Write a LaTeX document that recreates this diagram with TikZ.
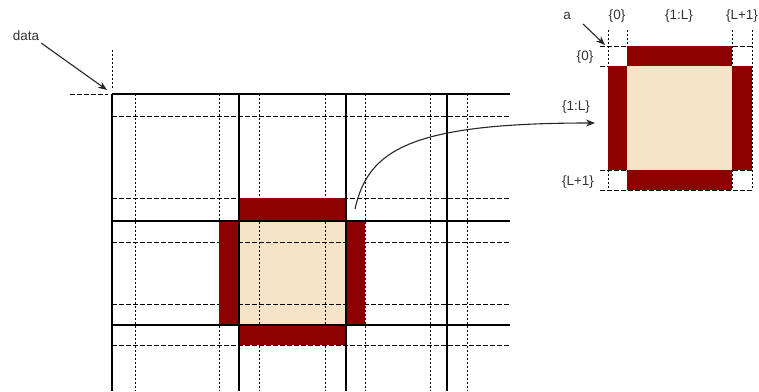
\documentclass[tikz,border=0pt]{standalone}
\usepackage{fontspec}
\setmainfont{Liberation Sans}
\usetikzlibrary{arrows.meta}
\definecolor{haloRed}{RGB}{140,0,0}
\definecolor{coreBeige}{RGB}{246,228,200}
\begin{document}
\begin{tikzpicture}[x=1pt,y=-1pt,
  solidln/.style={line width=1.3pt,black},
  vdash/.style={line width=0.8pt,black,dash pattern=on 2pt off 2pt},
  hdash/.style={line width=0.8pt,black,dash pattern=on 4.5pt off 2.5pt},
  lbl/.style={font=\fontsize{13.5}{15}\selectfont,text=black!80,inner sep=0pt},
  ptr/.style={line width=1.1pt,black!85,-{Stealth[length=9pt,width=7pt]}},
  redfill/.style={fill=haloRed,draw=none},
  beigefill/.style={fill=coreBeige,draw=none}]
\useasboundingbox (0,0) rectangle (759,391);
% ---------- main grid ----------
\fill[beigefill] (239,221) rectangle (346,325);
\foreach \x in {135,219,259,325,365,430,467}
  \draw[vdash] (\x,94) -- (\x,391);
\foreach \y in {116,198,242,304,345}
  \draw[hdash] (112,\y) -- (510,\y);
\fill[redfill] (239,198) rectangle (346,221);
\fill[redfill] (239,325) rectangle (346,345);
\fill[redfill] (219,221) rectangle (239,325);
\fill[redfill] (346,221) rectangle (365,325);
\foreach \x in {112,239,346,447}
  \draw[solidln] (\x,94) -- (\x,391);
\foreach \y in {94,221,325}
  \draw[solidln] (112,\y) -- (510,\y);
% corner marks
\draw[hdash] (70,94) -- (108,94);
\draw[vdash] (112,50) -- (112,90);
\node[lbl] (data) at (26,36) {data};
\coordinate (dataTip) at (107,90);
\draw[ptr] (data.south east) ++(2,2) -- (dataTip);
% ---------- small diagram ----------
\foreach \y in {46,66,170,190}
  \draw[hdash] (600,\y) -- (752,\y);
\foreach \x in {608,627,732,752}
  \draw[vdash] (\x,30) -- (\x,190);
\fill[beigefill] (627,66) rectangle (732,170);
\fill[redfill] (627,46) rectangle (732,66);
\fill[redfill] (627,170) rectangle (732,190);
\fill[redfill] (608,66) rectangle (627,170);
\fill[redfill] (732,66) rectangle (752,170);
\node[lbl] (a) at (567,16) {a};
\coordinate (aTip) at (605,45);
\draw[ptr] (583,24) -- (aTip);
\node[lbl] (c0) at (617,16) {\{0\}};
\node[lbl] (c1) at (679,16) {\{1:L\}};
\node[lbl] (c2) at (742,16) {\{L+1\}};
\node[lbl] (r0) at (585,57) {\{0\}};
\node[lbl] (r1) at (576,107) {\{1:L\}};
\node[lbl] (r2) at (578,182) {\{L+1\}};
% ---------- curved connector ----------
\coordinate (cStart) at (355,209);
\coordinate (cEnd) at (595,123);
\draw[ptr] (cStart) .. controls (368,150) and (410,123) .. (cEnd);
\end{tikzpicture}
\end{document}
